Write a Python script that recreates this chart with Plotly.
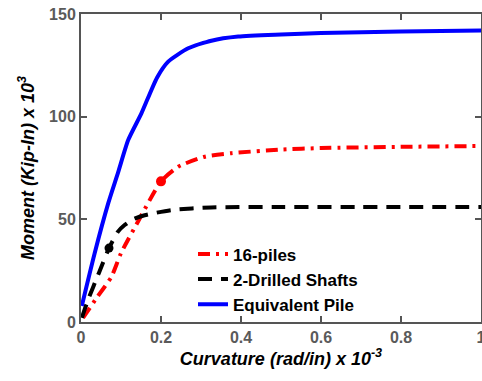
import plotly.graph_objects as go

# Data
red_x = [0.005, 0.04, 0.076, 0.1, 0.147, 0.2, 0.243, 0.309, 0.376, 0.5, 0.6, 0.8, 1.0]
red_y = [2, 12, 22, 33.5, 50.5, 68.5, 75.6, 80.5, 82.2, 84, 84.7, 85.3, 85.7]
red_mark_x = [0.2]
red_mark_y = [68.5]

black_x = [0.002, 0.018, 0.045, 0.07, 0.0925, 0.109, 0.13, 0.159, 0.226, 0.325, 0.5, 0.7, 1.0]
black_y = [2, 11, 24, 36, 44, 47.2, 50, 52, 54.5, 55.8, 56, 56, 56]
black_mark_x = [0.07]
black_mark_y = [36]

blue_x = [0.002, 0.034, 0.068, 0.093, 0.118, 0.151, 0.19, 0.218, 0.268, 0.326, 0.393, 0.5, 0.6, 0.8, 1.0]
blue_y = [7.8, 33.4, 57.8, 73, 88.6, 101.6, 119, 126.8, 133.3, 137, 139, 140, 140.7, 141.5, 142]

names = ["16-piles", "2-Drilled Shafts", "Equivalent Pile"]
x_ticks = [0, 0.2, 0.4, 0.6, 0.8, 1]
x_labels = ["0", "0.2", "0.4", "0.6", "0.8", "1"]
y_ticks = [0, 50, 100, 150]

fig = go.Figure()
fig.add_trace(go.Scatter(x=red_x, y=red_y, mode="lines", name=names[0], legendgroup="a",
                         line=dict(color="#ff0000", width=4, dash="12px,6px,3px,6px",
                                   shape="spline", smoothing=0.6)))
fig.add_trace(go.Scatter(x=black_x, y=black_y, mode="lines", name=names[1], legendgroup="b",
                         line=dict(color="#000000", width=4, dash="14px,9px",
                                   shape="spline", smoothing=0.6)))
fig.add_trace(go.Scatter(x=blue_x, y=blue_y, mode="lines", name=names[2], legendgroup="c",
                         line=dict(color="#0000ff", width=4, shape="spline", smoothing=0.6)))
fig.add_trace(go.Scatter(x=red_mark_x, y=red_mark_y, mode="markers", showlegend=False,
                         marker=dict(color="#ff0000", size=10)))
fig.add_trace(go.Scatter(x=black_mark_x, y=black_mark_y, mode="markers", showlegend=False,
                         marker=dict(color="#000000", size=9)))

axis_common = dict(showline=True, linecolor="#555555", linewidth=2, mirror="ticks",
                   ticks="inside", ticklen=6, tickwidth=2, tickcolor="#555555",
                   showgrid=False, zeroline=False, automargin=False,
                   ticklabeloverflow="allow",
                   tickfont=dict(family="Liberation Sans", size=16, color="#5a5a5a", weight="bold"))

fig.update_layout(
    width=482, height=381,
    margin=dict(l=81, r=1, t=14, b=59),
    plot_bgcolor="white", paper_bgcolor="white",
    xaxis=dict(range=[0, 1], tickvals=x_ticks, ticktext=x_labels,
               title=dict(text="<b><i>Curvature (rad/in) x 10<sup>-3</sup></i></b>",
                          font=dict(family="Liberation Sans", size=18, color="black"), standoff=2),
               **axis_common),
    yaxis=dict(range=[0, 150], tickvals=y_ticks,
               title=dict(text="<b><i>Moment (Kip-In) x 10<sup>3</sup></i></b>",
                          font=dict(family="Liberation Sans", size=18, color="black"), standoff=10),
               **axis_common),
    legend=dict(x=0.28, y=0.278, xanchor="left", yanchor="top", bgcolor="rgba(0,0,0,0)",
                font=dict(family="Liberation Sans", size=17, color="black", weight="bold"),
                tracegroupgap=0, itemwidth=30),
    showlegend=True,
)

fig.write_html("out.html", config={"displayModeBar": False},
               post_script="document.body.style.margin='0';document.body.style.overflow='hidden';")
